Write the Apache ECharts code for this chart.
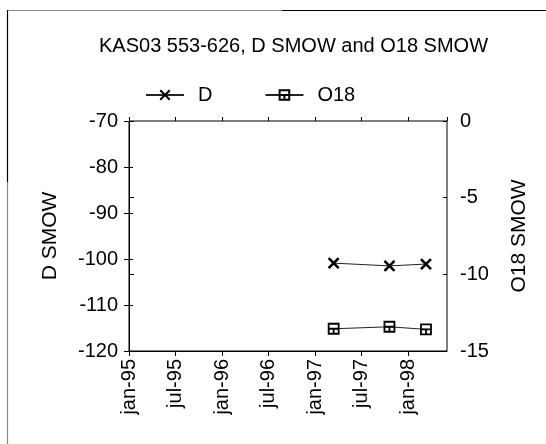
<!DOCTYPE html>
<html>
<head>
<meta charset="utf-8">
<script src="https://cdn.jsdelivr.net/npm/echarts@6/dist/echarts.min.js"></script>
<style>
html,body{margin:0;padding:0;background:#fff;}
#chart{width:546px;height:444px;}
</style>
</head>
<body>
<div id="chart"></div>
<script>
// ---- data ----
const sampleDates = ['1997-03-13', '1997-10-19', '1998-03-10'];
const dValues = [-100.9, -101.5, -101.1];
const o18Values = [-13.55, -13.42, -13.59];
const seriesNames = ['D', 'O18'];
const titleText = 'KAS03 553-626, D SMOW and O18 SMOW';
const leftAxisName = 'D SMOW';
const rightAxisName = 'O18 SMOW';
const monthNames = ['jan', 'jul'];

const START_YEAR = 1995;
function monthsSinceStart(s) {
  const p = s.split('-').map(Number);
  const dim = new Date(p[0], p[1], 0).getDate();
  return (p[0] - START_YEAR) * 12 + (p[1] - 1) + (p[2] - 1) / dim;
}
function tickLabel(v) {
  const idx = Math.round(v / 6) % 2;
  const yr = (START_YEAR + Math.floor(v / 12)) % 100;
  return monthNames[idx] + '-' + String(yr).padStart(2, '0');
}

const xs = sampleDates.map(monthsSinceStart);
const dData = xs.map((x, i) => [x, dValues[i]]);
const oData = xs.map((x, i) => [x, o18Values[i]]);

const FONT = '"Liberation Sans", Arial, sans-serif';
const chart = echarts.init(document.getElementById('chart'), null, {renderer: 'canvas'});

const xBase = {
  type: 'value', min: 0, max: 41, interval: 6,
  splitLine: {show: false}
};
const crossPath = 'path://M0,0L10,10M10,0L0,10';
const boxPath = 'path://M0,0L10,0L10,10L0,10Z M0,5L10,5 M5,5L5,10';

chart.setOption({
  animation: false,
  backgroundColor: '#fff',
  title: {
    text: titleText, left: 94, top: 31,
    textStyle: {fontFamily: FONT, fontSize: 20, fontWeight: 'normal', color: '#000'}
  },
  legend: {
    left: 140, top: 80, itemWidth: 38, itemHeight: 12, itemGap: 52,
    data: seriesNames,
    textStyle: {fontFamily: FONT, fontSize: 20, color: '#000', padding: [0, 0, 0, 9]}
  },
  grid: {left: 129, right: 99, top: 121, bottom: 93, show: true,
    borderColor: '#000', borderWidth: 1, backgroundColor: '#fff'},
  xAxis: [
    Object.assign({}, xBase, {
      axisLine: {show: true, onZero: false, lineStyle: {color: '#000', width: 1}},
      axisTick: {show: true, length: 5, lineStyle: {color: '#000'}},
      axisLabel: {rotate: 90, margin: 8, showMaxLabel: false, formatter: tickLabel,
        fontFamily: FONT, fontSize: 20, color: '#000'}
    }),
    Object.assign({}, xBase, {
      position: 'bottom',
      axisLine: {show: false},
      axisTick: {show: true, inside: true, length: 4, lineStyle: {color: '#000'}},
      axisLabel: {show: false}
    })
  ],
  yAxis: [
    {
      type: 'value', min: -120, max: -70, interval: 10, position: 'left',
      name: leftAxisName, nameLocation: 'middle', nameGap: 68, nameRotate: 90,
      nameTextStyle: {fontFamily: FONT, fontSize: 21, color: '#000'},
      axisLine: {show: true, lineStyle: {color: '#000', width: 1}},
      axisTick: {show: true, length: 5, lineStyle: {color: '#000'}},
      axisLabel: {margin: 11, fontFamily: FONT, fontSize: 20, color: '#000'},
      splitLine: {show: false}
    },
    {
      type: 'value', min: -15, max: 0, interval: 5, position: 'right',
      name: rightAxisName, nameLocation: 'middle', nameGap: 62, nameRotate: 90,
      nameTextStyle: {fontFamily: FONT, fontSize: 21, color: '#000'},
      axisLine: {show: true, lineStyle: {color: '#000', width: 1}},
      axisTick: {show: true, length: 5, lineStyle: {color: '#000'}},
      axisLabel: {margin: 13, fontFamily: FONT, fontSize: 20, color: '#000'},
      splitLine: {show: false}
    },
    {
      type: 'value', min: -120, max: -70, interval: 10, position: 'left',
      axisLine: {show: false}, axisLabel: {show: false}, splitLine: {show: false},
      axisTick: {show: true, inside: true, length: 4, lineStyle: {color: '#000'}}
    },
    {
      type: 'value', min: -15, max: 0, interval: 5, position: 'right',
      axisLine: {show: false}, axisLabel: {show: false}, splitLine: {show: false},
      axisTick: {show: true, inside: true, length: 4, lineStyle: {color: '#000'}}
    }
  ],
  series: [
    {
      name: seriesNames[0], type: 'line', xAxisIndex: 0, yAxisIndex: 0,
      data: dData, symbol: crossPath, symbolSize: 10,
      lineStyle: {color: '#222', width: 1},
      itemStyle: {color: '#000', borderColor: '#000', borderWidth: 2.6}
    },
    {
      name: seriesNames[1], type: 'line', xAxisIndex: 0, yAxisIndex: 1,
      data: oData, symbol: boxPath, symbolSize: 10,
      lineStyle: {color: '#222', width: 1},
      itemStyle: {color: 'rgba(255,255,255,0)', borderColor: '#000', borderWidth: 1.8}
    }
  ],
  graphic: [
    {type: 'line', shape: {x1: 7, y1: 10.5, x2: 282, y2: 10.5}, style: {stroke: '#888', lineWidth: 1.2}, silent: true},
    {type: 'line', shape: {x1: 282, y1: 10.5, x2: 546, y2: 10.5}, style: {stroke: '#000', lineWidth: 1.2}, silent: true},
    {type: 'line', shape: {x1: 7.5, y1: 10, x2: 7.5, y2: 182}, style: {stroke: '#000', lineWidth: 1.2}, silent: true},
    {type: 'line', shape: {x1: 7.5, y1: 182, x2: 7.5, y2: 444}, style: {stroke: '#888', lineWidth: 1.2}, silent: true}
  ]
});
</script>
</body>
</html>
